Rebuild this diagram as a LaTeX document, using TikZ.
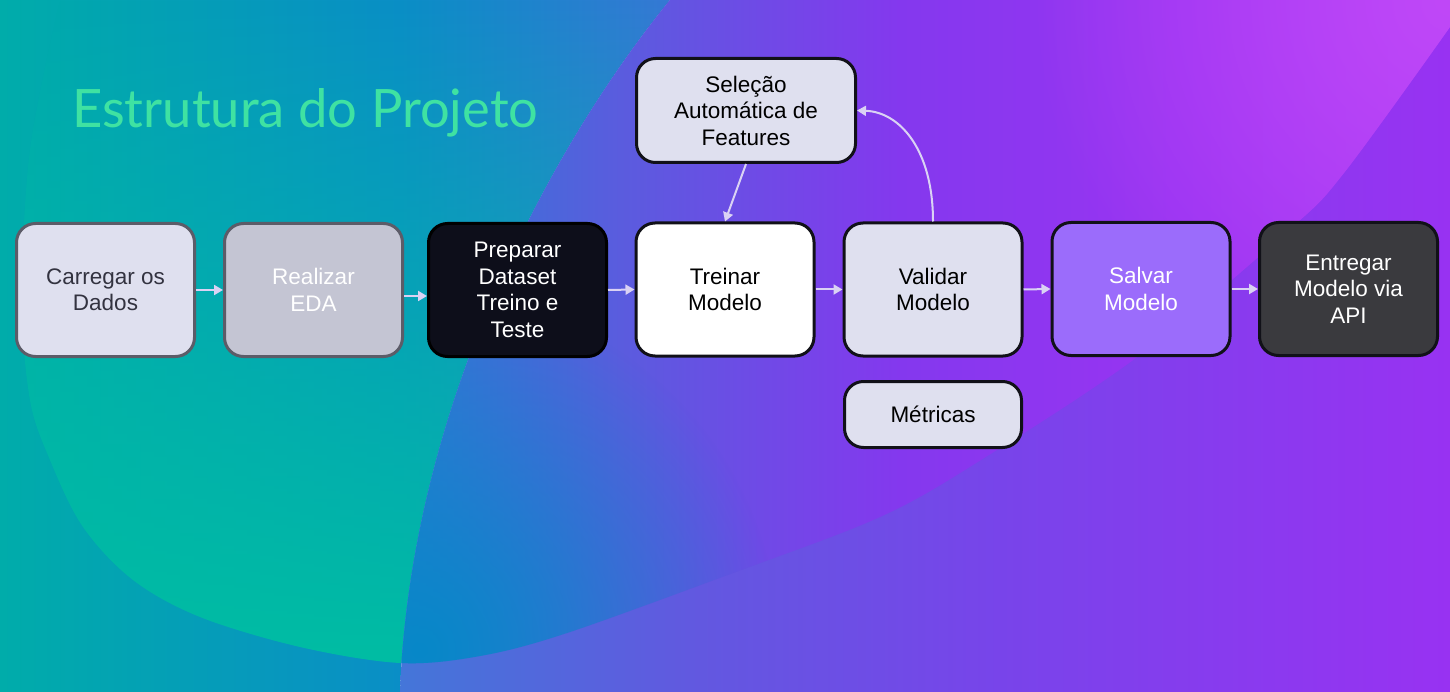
\documentclass[tikz,border=0pt]{standalone}
\usepackage{fontspec}
\setmainfont{Liberation Sans}
\newfontfamily\titlefont{Lato}
\usetikzlibrary{arrows.meta,fadings}
% background colours
\definecolor{lA}{HTML}{00ACAA}
\definecolor{lB}{HTML}{0A8EC6}
\definecolor{lC}{HTML}{3A76D6}
\definecolor{gIn}{HTML}{00BDA3}
\definecolor{oA}{HTML}{4278D8}
\definecolor{oB}{HTML}{6258E0}
\definecolor{oC}{HTML}{7844EA}
\definecolor{oD}{HTML}{9832F2}
\definecolor{iA}{HTML}{2A7ED2}
\definecolor{iB}{HTML}{5A5CDE}
\definecolor{iC}{HTML}{8438EE}
\definecolor{iD}{HTML}{9A34F2}
\definecolor{iE}{HTML}{A63AF4}
\definecolor{gBlue}{HTML}{0788C8}
\definecolor{gMag}{HTML}{C048F8}
% box colours
\definecolor{lightbox}{HTML}{DFE0EF}
\definecolor{greybox}{HTML}{C4C5D3}
\definecolor{darkbox}{HTML}{0D0E1A}
\definecolor{violetbox}{HTML}{9B6CFB}
\definecolor{charbox}{HTML}{3A3A3E}
\definecolor{greyline}{HTML}{5C5C68}
\definecolor{blackline}{HTML}{111118}
\definecolor{greytext}{HTML}{333340}
\definecolor{arrowc}{HTML}{DAD2F4}
\definecolor{titlec}{HTML}{3FE2A2}
\pgfdeclarehorizontalshading{shL}{100bp}{color(0bp)=(lA); color(25bp)=(lA); color(53.57bp)=(lB); color(75bp)=(lC); color(100bp)=(lC)}
\pgfdeclarehorizontalshading{shOut}{100bp}{color(0bp)=(oA); color(25bp)=(oA); color(39.95bp)=(oB); color(53.97bp)=(oC); color(75bp)=(oD); color(100bp)=(oD)}
\pgfdeclarehorizontalshading{shIn}{100bp}{color(0bp)=(iA); color(25bp)=(iA); color(36.2bp)=(iB); color(49.3bp)=(iC); color(63.3bp)=(iD); color(75bp)=(iE); color(100bp)=(iE)}
\tikzfading[name=fadeup, top color=transparent!100, bottom color=transparent!0]
\tikzfading[name=glow, inner color=transparent!0, outer color=transparent!100]
\begin{document}
\begin{tikzpicture}[x=1pt,y=-1pt,
  box/.style={draw, rounded corners=19pt, line width=3pt, align=center, inner sep=0pt,
    minimum width=178pt, minimum height=133pt,
    font=\fontsize{22.5}{26.5}\selectfont},
  lightb/.style={box, fill=lightbox, draw=blackline, text=black},
  arr/.style={draw=arrowc, line width=2pt, -{Triangle[length=9pt,width=10pt]}}]
\useasboundingbox (0,0) rectangle (1450,692);
% ---------- background ----------
\begin{scope}
  \clip (0,0) -- (670,0) .. controls (540,160) and (410,420) .. (400,692) -- (0,692) -- cycle;
  \shade[shading=shL] (0,0) rectangle (700,692);
  \begin{scope}
    \clip plot[smooth,tension=0.55] coordinates {(60,0) (30,150) (22,300) (30,400) (50,460) (83,527) (133,580) (200,617) (300,647) (400,663) (480,656) (567,633) (733,573) (880,517) (981,460) (1140,355) (1289,230) (1344,173) (1450,27)} -- (1450,0) -- cycle;
    \fill[gIn, path fading=fadeup] (0,0) rectangle (700,663);
  \end{scope}
\end{scope}
\begin{scope}
  \clip (670,0) .. controls (540,160) and (410,420) .. (400,692) -- (1450,692) -- (1450,0) -- cycle;
  \shade[shading=shOut] (380,0) rectangle (1450,692);
  \begin{scope}
    \clip plot[smooth,tension=0.55] coordinates {(60,0) (30,150) (22,300) (30,400) (50,460) (83,527) (133,580) (200,617) (300,647) (400,663) (480,656) (567,633) (733,573) (880,517) (981,460) (1140,355) (1289,230) (1344,173) (1450,27)} -- (1450,0) -- cycle;
    \shade[shading=shIn] (380,0) rectangle (1450,692);
    \fill[gBlue, path fading=glow] (420,650) circle (360pt);
    \fill[gMag, path fading=glow] (1450,0) circle (420pt);
  \end{scope}
\end{scope}
% ---------- title ----------
\node[anchor=base west, inner sep=0pt, text=titlec] (title) at (72,128)
  {\resizebox{466pt}{39pt}{\titlefont Estrutura do Projeto}};
% ---------- boxes ----------
\node[box, fill=lightbox, draw=greyline, text=greytext] (carregar) at (105.5,290) {Carregar os\\Dados};
\node[box, fill=greybox, draw=greyline, text=white] (eda) at (313.5,290) {Realizar\\EDA};
\node[box, fill=darkbox, draw=black, text=white] (preparar) at (517.5,290) {Preparar\\Dataset\\Treino e\\Teste};
\node[box, fill=white, draw=blackline, text=black] (treinar) at (725,289.5) {Treinar\\Modelo};
\node[lightb] (validar) at (933,289.5) {Validar\\Modelo};
\node[box, fill=violetbox, draw=blackline, text=white] (salvar) at (1141,289) {Salvar\\Modelo};
\node[box, fill=charbox, draw=blackline, text=white] (entregar) at (1348.5,289) {Entregar\\Modelo via\\API};
\node[lightb, minimum width=219pt, minimum height=104pt] (selecao) at (746,110.5) {Seleção\\Automática de\\Features};
\node[lightb, minimum width=177pt, minimum height=66pt] (metricas) at (933,414.5) {Métricas};
% ---------- connectors ----------
\draw[arr] (carregar.east) -- (eda.west);
\draw[arr] ([yshift=-6pt]eda.east) -- ([yshift=-6pt]preparar.west);
\draw[arr] (preparar.east) -- (treinar.west);
\draw[arr] (treinar.east) -- (validar.west);
\draw[arr] (validar.east) -- (salvar.west);
\draw[arr] (salvar.east) -- (entregar.west);
\draw[arr] (selecao.south) -- (treinar.north);
\draw[arr] (validar.north) .. controls (933,150) and (900,112) .. (selecao.east);
\end{tikzpicture}
\end{document}
